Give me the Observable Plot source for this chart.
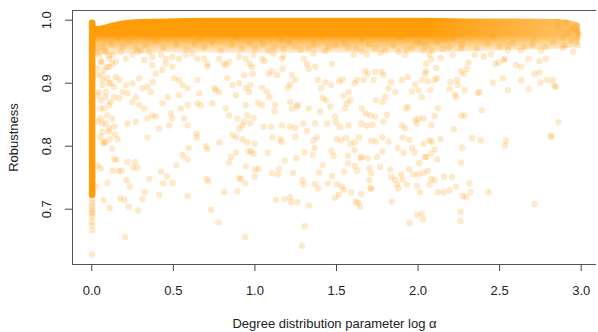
<!DOCTYPE html>
<html><head><meta charset="utf-8">
<script src="https://cdn.jsdelivr.net/npm/d3@7"></script>
<script src="https://cdn.jsdelivr.net/npm/@observablehq/plot@0.6"></script>
<style>html,body{margin:0;padding:0;background:#fff;} svg{display:block;}</style>
</head><body><div id="chart"></div>
<script>
// ---------- text / ticks ----------
const xTicks = [0, 0.5, 1.0, 1.5, 2.0, 2.5, 3.0];
const yTicks = [0.7, 0.8, 0.9, 1.0];
const xLabel = "Degree distribution parameter log α";
const yLabel = "Robustness";

// ---------- dense vertical strip of runs at log α = 0 ----------
const stripX = [0.002];
const stripTop = [0.995];
const stripBottom = [0.722];
const stripTail = [[0.002,0.716],[0.004,0.710],[0.001,0.705],[0.003,0.700],[0.002,0.696],[0.001,0.693],[0.004,0.688],[0.002,0.680],[0.001,0.674],[0.003,0.666],[0.002,0.628],[0.006,0.730],[0.005,0.741],[0.006,0.752]];

// ---------- dense band of runs near robustness 1 (read envelope) ----------
const bandX     = [0.005, 0.035, 0.080, 0.157, 0.300, 0.460, 0.700, 1.000, 1.500, 2.000, 2.300, 2.600, 2.850, 2.950, 2.995];
const bandTop   = [0.996, 0.990, 0.992, 0.997, 1.001, 1.002, 1.003, 1.003, 1.003, 1.003, 1.002, 1.002, 1.001, 0.998, 0.994];
const bandLow   = [0.940, 0.942, 0.944, 0.946, 0.947, 0.948, 0.948, 0.947, 0.948, 0.948, 0.950, 0.952, 0.954, 0.956, 0.962];

// ---------- scattered runs ----------
const fringePts = [[0.12,0.962],[0.19,0.958],[0.23,0.966],[0.27,0.955],[0.33,0.960],[0.39,0.967],[0.44,0.956],[0.52,0.961],[0.58,0.954],[0.63,0.963],[0.69,0.957],[0.74,0.965],[0.79,0.952],[0.86,0.960],[0.92,0.955],[0.97,0.963],
[1.05,0.962],[1.12,0.957],[1.21,0.965],[1.28,0.953],[1.36,0.961],[1.45,0.957],[1.55,0.964],[1.62,0.955],[1.70,0.962],[1.77,0.948],[1.85,0.960],[1.93,0.953],[1.99,0.965],
[2.05,0.960],[2.12,0.965],[2.19,0.957],[2.27,0.962],[2.36,0.955],[2.43,0.963],[2.50,0.958],[2.58,0.964],[2.63,0.952],[2.70,0.961],[2.78,0.957],[2.83,0.965],[2.90,0.960],[2.95,0.950],[2.97,0.970],[2.92,0.978],[2.96,0.985],[2.86,0.990],
[1.002,0.955],[1.084,0.951],[1.176,0.955],[1.247,0.958],[1.329,0.956],[1.431,0.951],[1.492,0.960],[1.574,0.956],[1.656,0.950],[1.737,0.956],[1.799,0.952],[1.880,0.950],[1.962,0.956],[2.034,0.952],[0.992,0.945],[1.114,0.947],[1.359,0.947],[1.605,0.945],[1.686,0.945],[1.921,0.945],[2.019,0.963],
[2.403,0.942],[2.448,0.946],[2.550,0.952],[2.652,0.958],[2.755,0.952],[2.887,0.956],[2.979,0.960],[2.990,0.976],[2.969,0.990],[2.857,0.998],[2.908,0.996],[2.938,0.987],[2.264,0.955],[2.346,0.945],[2.084,0.952],[2.550,0.960],[2.162,0.968],
[0.16,0.972],[0.41,0.975],[0.66,0.970],[0.88,0.974],[1.16,0.971],[1.41,0.974],[1.66,0.970],[1.89,0.973],[2.21,0.971],[2.46,0.974],[2.71,0.969],[2.89,0.972],[2.98,0.981],[2.94,0.967]];

const nearStripPts = [[0.039,0.950],[0.074,0.952],[0.104,0.944],[0.059,0.934],[0.094,0.926],[0.125,0.931],[0.033,0.913],[0.064,0.905],[0.104,0.900],[0.135,0.894],[0.043,0.886],[0.084,0.878],[0.115,0.870],[0.053,0.860],[0.094,0.849],[0.125,0.844],[0.064,0.836],[0.104,0.823],[0.053,0.815],[0.084,0.807],[0.125,0.796]];

const upperLeftPts = [[0.035,0.955],[0.066,0.958],[0.045,0.945],[0.086,0.950],[0.107,0.939],[0.127,0.945],[0.055,0.934],[0.035,0.923],[0.076,0.921],[0.061,0.913],[0.107,0.926],[0.147,0.934],[0.178,0.950],[0.209,0.939],[0.249,0.945],[0.280,0.950],[0.300,0.952],[0.321,0.937],[0.351,0.950],[0.372,0.942],[0.423,0.945],[0.454,0.939],[0.494,0.942],[0.535,0.939],[0.576,0.945],[0.617,0.947],[0.648,0.939],[0.689,0.939],[0.709,0.931],[0.781,0.939],[0.811,0.931],[0.842,0.934],[0.903,0.942],[0.944,0.939],[0.965,0.931],
[0.066,0.897],[0.096,0.908],[0.117,0.900],[0.147,0.910],[0.168,0.905],[0.209,0.897],[0.249,0.900],[0.290,0.908],[0.311,0.892],[0.341,0.894],[0.372,0.902],[0.372,0.929],[0.392,0.915],[0.433,0.921],[0.454,0.931],[0.494,0.926],[0.505,0.908],[0.535,0.905],[0.556,0.897],[0.587,0.892],[0.648,0.905],[0.658,0.884],[0.709,0.926],[0.750,0.892],[0.781,0.886],[0.822,0.929],[0.832,0.908],[0.862,0.897],[0.883,0.881],[0.903,0.900],[0.934,0.913],[0.944,0.892],[0.944,0.865],[0.965,0.886],
[0.035,0.881],[0.055,0.873],[0.086,0.886],[0.076,0.860],[0.107,0.865],[0.137,0.878],[0.168,0.876],[0.188,0.886],[0.219,0.884],[0.249,0.870],[0.270,0.878],[0.290,0.865],[0.321,0.860],[0.362,0.886],[0.372,0.849],[0.392,0.847],[0.433,0.868],[0.464,0.878],[0.484,0.852],[0.494,0.844],[0.535,0.881],[0.546,0.860],[0.566,0.844],[0.587,0.865],[0.648,0.868],[0.668,0.865],[0.740,0.868],[0.760,0.889],[0.822,0.860],[0.842,0.849],[0.893,0.844],[0.934,0.839],[0.954,0.849],
[0.035,0.839],[0.055,0.844],[0.086,0.836],[0.107,0.828],[0.137,0.831],[0.219,0.836],[0.270,0.839],[0.341,0.844],[0.413,0.828],[0.474,0.833],[0.587,0.833],[0.642,0.820],[0.862,0.818],[0.903,0.828],[0.924,0.833],[0.066,0.823],[0.143,0.819]];

const lowerLeftPts = [[0.066,0.806],[0.076,0.805],[0.110,0.811],[0.158,0.811],[0.341,0.814],[0.644,0.814],[0.781,0.806],[0.883,0.814],[0.924,0.811],[0.954,0.806],[0.035,0.769],[0.055,0.765],[0.137,0.779],[0.151,0.779],[0.219,0.775],[0.266,0.775],[0.254,0.766],[0.280,0.766],[0.127,0.761],[0.164,0.761],[0.184,0.761],[0.096,0.742],[0.213,0.746],[0.233,0.736],[0.352,0.748],[0.423,0.760],[0.460,0.752],[0.438,0.741],[0.495,0.742],[0.519,0.770],[0.556,0.786],[0.593,0.797],[0.587,0.779],[0.025,0.736],[0.072,0.715],[0.110,0.702],[0.174,0.717],[0.199,0.715],[0.225,0.704],[0.284,0.698],[0.311,0.716],[0.327,0.727],[0.413,0.723],[0.587,0.721],[0.205,0.656],[0.699,0.800],[0.709,0.795],[0.703,0.748],[0.715,0.744],[0.732,0.699],[0.777,0.679],[0.812,0.727],[0.842,0.774],[0.852,0.783],[0.883,0.790],[0.893,0.728],[0.904,0.749],[0.913,0.748],[0.940,0.741],[0.944,0.768],[0.961,0.792],[0.940,0.656]];

const upperMidPts = [[1.043,0.939],[1.059,0.935],[0.981,0.926],[0.986,0.915],[0.971,0.897],[1.165,0.939],[1.176,0.943],[1.043,0.893],[1.073,0.887],[1.088,0.878],[1.202,0.893],[1.216,0.898],[1.084,0.915],[1.104,0.919],[1.135,0.913],[1.169,0.923],[1.216,0.870],[1.227,0.913],[1.247,0.905],[1.298,0.939],[1.319,0.931],[1.329,0.923],[1.370,0.926],[1.386,0.905],[1.406,0.892],[1.415,0.877],[1.435,0.873],[1.431,0.901],[1.472,0.931],[1.468,0.897],[1.517,0.903],[1.537,0.906],[1.543,0.880],[1.574,0.886],[1.611,0.900],[1.625,0.905],[1.666,0.905],[1.676,0.919],[1.692,0.915],[1.727,0.905],[1.737,0.918],[1.778,0.918],[1.788,0.913],[1.799,0.878],[1.819,0.892],[1.835,0.902],[1.860,0.886],[1.901,0.905],[1.938,0.910],[1.962,0.887],[1.983,0.898],[2.003,0.889],[2.023,0.905],[2.044,0.915],[2.023,0.878],
[1.018,0.869],[1.043,0.865],[1.124,0.865],[1.120,0.855],[1.227,0.860],[1.257,0.863],[1.263,0.865],[1.329,0.860],[1.400,0.855],[1.462,0.863],[1.492,0.847],[1.553,0.860],[1.564,0.868],[1.584,0.873],[1.656,0.860],[1.680,0.852],[1.707,0.849],[1.737,0.847],[1.741,0.873],[1.782,0.870],[1.809,0.850],[1.925,0.860],[1.938,0.863],[1.983,0.841],[2.003,0.844],[2.034,0.844],
[1.053,0.831],[1.100,0.831],[1.165,0.833],[1.216,0.831],[1.247,0.829],[1.298,0.836],[1.319,0.824],[1.370,0.836],[1.441,0.836],[1.496,0.838],[1.523,0.831],[1.574,0.833],[1.652,0.836],[1.686,0.833],[1.721,0.834],[1.788,0.839],[1.901,0.833],[1.921,0.828],[1.993,0.836],[0.992,0.845],[0.971,0.836]];

const lowerMidPts = [[0.998,0.804],[1.108,0.814],[1.155,0.811],[1.165,0.807],[1.247,0.815],[1.359,0.809],[1.380,0.814],[1.502,0.811],[1.529,0.809],[1.558,0.813],[1.584,0.804],[1.611,0.806],[1.639,0.814],[1.713,0.809],[1.741,0.807],[1.782,0.814],[1.819,0.807],[1.905,0.814],[1.946,0.810],[2.034,0.804],
[0.977,0.792],[0.992,0.788],[1.077,0.789],[1.304,0.790],[1.353,0.786],[1.366,0.797],[1.468,0.793],[1.482,0.785],[1.570,0.785],[1.611,0.794],[1.652,0.783],[1.692,0.781],[1.748,0.783],[1.782,0.792],[1.876,0.797],[1.911,0.790],[1.962,0.797],[1.978,0.790],[2.007,0.773],[2.044,0.783],
[1.002,0.763],[1.022,0.764],[0.998,0.752],[1.104,0.757],[1.141,0.755],[1.149,0.764],[1.182,0.777],[1.233,0.758],[1.253,0.781],[1.394,0.758],[1.415,0.770],[1.472,0.753],[1.547,0.760],[1.570,0.773],[1.611,0.769],[1.625,0.761],[1.652,0.781],[1.701,0.765],[1.713,0.757],[1.701,0.746],[1.713,0.733],[1.768,0.767],[1.829,0.763],[1.835,0.751],[1.860,0.747],[1.870,0.739],[1.897,0.755],[1.905,0.747],[1.931,0.739],[1.946,0.763],[1.972,0.755],[2.003,0.755],[2.034,0.758],[1.993,0.737],[2.013,0.727],
[1.292,0.746],[1.298,0.739],[1.366,0.740],[1.386,0.733],[1.447,0.741],[1.502,0.739],[1.533,0.736],[1.543,0.731],[1.513,0.723],[1.492,0.718],[1.590,0.727],[1.652,0.724],[1.619,0.712],[1.631,0.710],[1.645,0.704],[1.707,0.733],[1.839,0.712],[1.880,0.733],
[1.129,0.715],[1.182,0.716],[1.216,0.719],[1.223,0.711],[1.263,0.711],[1.333,0.706],[1.304,0.673],[1.288,0.642],[1.993,0.691],[2.023,0.693],[2.030,0.684],[1.948,0.678]];

const upperRightPts = [[2.152,0.955],[2.138,0.940],[2.050,0.931],[2.080,0.938],[2.070,0.946],[2.213,0.945],[2.050,0.919],[2.111,0.924],[2.117,0.908],[2.101,0.905],[2.060,0.903],[2.076,0.889],[2.193,0.891],[2.199,0.902],[2.240,0.905],[2.244,0.897],[2.281,0.915],[2.264,0.919],[2.301,0.923],[2.309,0.933],[2.223,0.882],[2.234,0.878],[2.285,0.889],[2.366,0.884],[2.377,0.886],[2.391,0.857],[2.458,0.901],[2.473,0.931],[2.493,0.933],[2.526,0.937],[2.530,0.939],[2.520,0.908],[2.550,0.889],[2.632,0.905],[2.677,0.891],[2.601,0.929],[2.632,0.926],[2.677,0.939],[2.714,0.915],[2.744,0.917],[2.750,0.901],[2.744,0.935],[2.785,0.939],[2.791,0.905],[2.826,0.905],[2.836,0.896],[2.846,0.894],[2.121,0.860],[2.101,0.848],[2.080,0.833],[2.264,0.848],[2.285,0.849],[2.861,0.838],[2.816,0.817],[2.219,0.827]];

const lowerRightPts = [[2.070,0.809],[2.084,0.807],[2.138,0.811],[2.330,0.813],[2.383,0.809],[2.540,0.809],[2.534,0.801],[2.816,0.814],[2.270,0.798],[2.050,0.783],[2.080,0.788],[2.101,0.795],[2.117,0.779],[2.264,0.774],[2.060,0.761],[2.080,0.748],[2.101,0.746],[2.070,0.739],[2.158,0.752],[2.207,0.751],[2.121,0.727],[2.158,0.727],[2.193,0.730],[2.234,0.736],[2.274,0.721],[2.295,0.719],[2.315,0.741],[2.321,0.727],[2.432,0.727],[2.260,0.696],[2.260,0.681],[2.714,0.708]];

// ---------- build ----------
const xDomain = [-0.1183, 3.0939];
const yDomain = [0.6122, 1.0154];
const orange = "#FF9900";
const band = bandX.map((x, i) => ({x, top: bandTop[i], low: bandLow[i]}));
const strip = stripX.map((x, i) => ({x, y1: stripBottom[i], y2: stripTop[i]}));
const points = [].concat(fringePts, nearStripPts, upperLeftPts, lowerLeftPts, upperMidPts, lowerMidPts, upperRightPts, lowerRightPts, stripTail);

const chart = Plot.plot({
  width: 598,
  height: 332,
  marginLeft: 72,
  marginRight: 2,
  marginTop: 10,
  marginBottom: 68,
  x: {domain: xDomain, label: null},
  y: {domain: yDomain, label: null},
  style: {fontFamily: "'Liberation Sans', Arial, sans-serif", fontSize: "13px", background: "#fff", color: "#222"},
  marks: [
    Plot.areaY(band, {x: "x", y1: "low", y2: "top", fill: "url(#bandV)", curve: "monotone-x"}),
    Plot.ruleX(strip, {x: "x", y1: "y1", y2: "y2", stroke: orange, strokeWidth: 6.5, strokeLinecap: "round", strokeOpacity: 0.95}),
    Plot.dot(points, {x: d => d[0], y: d => d[1], r: 3.2, fill: orange, fillOpacity: 0.21, stroke: "none"}),
    Plot.ruleY([yDomain[0]], {stroke: "#555"}),
    Plot.ruleY([yDomain[1]], {stroke: "#555"}),
    Plot.ruleX([xDomain[0]], {stroke: "#555"}),
    Plot.axisX(xTicks, {tickSize: 7, tickFormat: () => "", stroke: "#444", label: null}),
    Plot.axisY(yTicks, {tickSize: 7, tickFormat: () => "", stroke: "#444", label: null}),
    Plot.text(xTicks, {x: d => d, frameAnchor: "bottom", dy: 26, text: d => d.toFixed(1), fontSize: 13, fill: "#222", lineAnchor: "middle"}),
    Plot.text(yTicks, {y: d => d, frameAnchor: "left", dx: -25.3, text: d => d.toFixed(1), fontSize: 13, fill: "#222", rotate: -90, textAnchor: "middle", lineAnchor: "middle"}),
    Plot.text([xLabel], {frameAnchor: "bottom", dy: 59, text: d => d, fontSize: 13, fill: "#222", lineAnchor: "middle"}),
    Plot.text([yLabel], {frameAnchor: "left", dx: -58.5, text: d => d, fontSize: 13, fill: "#222", rotate: -90, textAnchor: "middle", lineAnchor: "middle"})
  ]
});

// gradient styling for the dense band (vertical fade + lighter right end)
const NS = "http://www.w3.org/2000/svg";
const defs = document.createElementNS(NS, "defs");
defs.innerHTML = `
  <linearGradient id="bandV" x1="0" y1="0" x2="0" y2="1">
    <stop offset="0" stop-color="#FF9900" stop-opacity="0.97"/>
    <stop offset="0.45" stop-color="#FF9900" stop-opacity="0.95"/>
    <stop offset="0.62" stop-color="#FF9900" stop-opacity="0.6"/>
    <stop offset="0.8" stop-color="#FF9900" stop-opacity="0.28"/>
    <stop offset="1" stop-color="#FF9900" stop-opacity="0.06"/>
  </linearGradient>
  <linearGradient id="bandH" gradientUnits="userSpaceOnUse" x1="430" y1="0" x2="585" y2="0">
    <stop offset="0" stop-color="#fff"/>
    <stop offset="1" stop-color="#9a9a9a"/>
  </linearGradient>
  <mask id="bandMask" maskUnits="userSpaceOnUse" x="0" y="0" width="598" height="332">
    <rect x="0" y="0" width="598" height="332" fill="url(#bandH)"/>
  </mask>`;
chart.insertBefore(defs, chart.firstChild);
const areaG = chart.querySelector('g[aria-label="area"]');
if (areaG) areaG.setAttribute("mask", "url(#bandMask)");
document.getElementById("chart").appendChild(chart);
</script>
</body></html>
